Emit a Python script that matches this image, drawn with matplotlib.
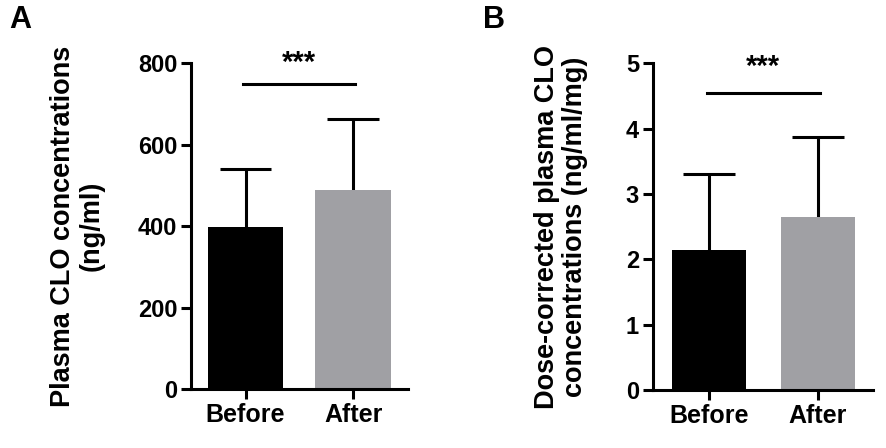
import matplotlib
matplotlib.use("Agg")
import matplotlib.pyplot as plt

categories = ["Before", "After"]
conc_mean = [398, 490]
conc_sd = [143, 174]
dose_mean = [2.14, 2.64]
dose_sd = [1.17, 1.23]
bar_colors = ["#000000", "#A0A0A4"]

plt.rcParams['font.family'] = ['Liberation Sans', 'DejaVu Sans']
plt.rcParams['font.weight'] = 'bold'

fig = plt.figure(figsize=(8.86, 4.48), dpi=100)

def panel(rect, means, sds, ylim, yticks, ylabel, sig_y, star_y, xlim, width, labelpad):
    ax = fig.add_axes(rect)
    x = list(range(len(categories)))
    ax.bar(x, means, width=width, color=bar_colors, zorder=2)
    tops = [m + s for m, s in zip(means, sds)]
    ax.vlines(x, means, tops, color='black', lw=2.2, zorder=1)
    cap = 0.24
    ax.hlines(tops, [xi - cap for xi in x], [xi + cap for xi in x], color='black', lw=2.2, zorder=1)
    ax.set_xlim(*xlim)
    ax.set_ylim(*ylim)
    ax.set_yticks(yticks)
    ax.set_xticks(x)
    ax.set_xticklabels(categories, fontsize=18, fontweight='bold')
    for lab in ax.get_yticklabels():
        lab.set_fontsize(17)
        lab.set_fontweight('bold')
    for s in ['top', 'right']:
        ax.spines[s].set_visible(False)
    for s in ['left', 'bottom']:
        ax.spines[s].set_linewidth(2.2)
    ax.tick_params(axis='both', direction='out', width=2.2, length=7, pad=3)
    ax.set_ylabel(ylabel, fontsize=19.5, fontweight='bold', labelpad=labelpad, linespacing=1.1)
    ax.plot([-0.02, 1.02], [sig_y, sig_y], color='black', lw=2.2, clip_on=False)
    ax.text(0.5, star_y, "***", ha='center', va='center', fontsize=21, fontweight='bold', clip_on=False)
    return ax

axA = panel([0.2156, 0.1317, 0.2449, 0.727], conc_mean, conc_sd, (0, 800),
            [0, 200, 400, 600, 800], "Plasma CLO concentrations\n(ng/ml)", 750, 800,
            (-0.507, 1.51), 0.70, 24)
axB = panel([0.737, 0.1295, 0.2483, 0.7292], dose_mean, dose_sd, (0, 5),
            [0, 1, 2, 3, 4, 5], "Dose-corrected plasma CLO\nconcentrations (ng/ml/mg)", 4.55, 4.95,
            (-0.516, 1.51), 0.68, 27)

fig.text(0.010, 0.955, "A", fontsize=22, fontweight='bold', ha='left', va='center')
fig.text(0.545, 0.955, "B", fontsize=22, fontweight='bold', ha='left', va='center')

fig.savefig("out.png", dpi=100, facecolor='white')
